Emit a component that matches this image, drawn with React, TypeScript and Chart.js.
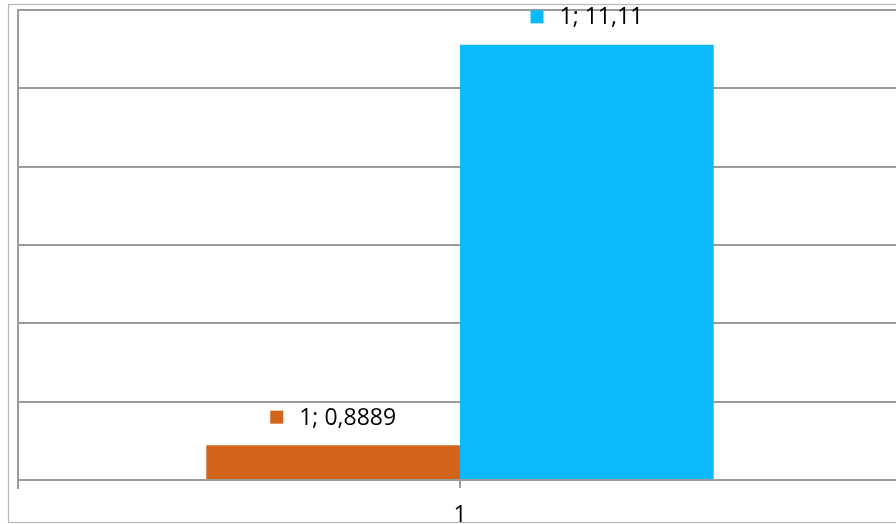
import React, { useEffect, useRef } from "react";
import { Chart, registerables } from "chart.js";

Chart.register(...registerables);

const categories = ["1"];
const seriesOrange = [0.8889];
const seriesBlue = [11.11];
const yTicks = [0, 2, 4, 6, 8, 10, 12];

const ORANGE = "rgb(210,101,27)";
const BLUE = "rgb(10,186,250)";
const GRID = "#9b9b9b";
const FONT = "'Open Sans', Lato, sans-serif";

const fmt = (v: number) => String(v).replace(".", ",");

const framePlugin = {
  id: "frame",
  beforeDraw(chart: any) {
    const ctx = chart.ctx;
    ctx.save();
    ctx.fillStyle = "#ffffff";
    ctx.fillRect(0, 0, chart.width, chart.height);
    ctx.strokeStyle = "#b8b8b8";
    ctx.lineWidth = 1.2;
    ctx.strokeRect(8.5, 4.5, chart.width + 20, 518);
    ctx.restore();
  },
  afterDraw(chart: any) {
    const ctx = chart.ctx;
    const a = chart.chartArea;
    ctx.save();
    ctx.strokeStyle = GRID;
    ctx.lineWidth = 2;
    ctx.beginPath();
    ctx.moveTo(a.left, a.bottom);
    ctx.lineTo(a.left, a.bottom + 9);
    ctx.stroke();
    // data labels
    ctx.font = `23px ${FONT}`;
    ctx.textBaseline = "middle";
    chart.data.datasets.forEach((ds: any, di: number) => {
      const meta = chart.getDatasetMeta(di);
      meta.data.forEach((bar: any, i: number) => {
        const text = `${categories[i]}; ${fmt(ds.data[i])}`;
        const tw = ctx.measureText(text).width;
        const sq = 13;
        const gap = 16;
        const total = sq + gap + tw;
        const x0 = bar.x - total / 2;
        const yc = bar.y - 27;
        ctx.fillStyle = ds.backgroundColor;
        ctx.fillRect(x0, yc - sq / 2 - 1, sq, sq);
        ctx.fillStyle = "#000";
        ctx.textAlign = "left";
        ctx.fillText(text, x0 + sq + gap, yc);
      });
    });
    ctx.restore();
  },
};

export default function App() {
  const ref = useRef<HTMLCanvasElement>(null);
  useEffect(() => {
    if (!ref.current) return;
    const chart = new Chart(ref.current, {
      type: "bar",
      data: {
        labels: categories,
        datasets: [
          { label: "A", data: seriesOrange, backgroundColor: ORANGE },
          { label: "B", data: seriesBlue, backgroundColor: BLUE },
        ],
      },
      options: {
        responsive: false,
        animation: false,
        layout: { padding: { left: 18, top: 10, right: 18, bottom: 0 } },
        datasets: {
          bar: { categoryPercentage: 0.574, barPercentage: 1 },
        },
        plugins: {
          legend: { display: false },
          tooltip: { enabled: false },
        },
        scales: {
          x: {
            grid: {
              display: true,
              drawOnChartArea: false,
              offset: false,
              color: GRID,
              lineWidth: 2,
              tickLength: 8,
            },
            border: { display: true, color: GRID, width: 2 },
            ticks: {
              color: "#000",
              font: { family: FONT, size: 23 },
              padding: 14,
            },
            afterFit: (s: any) => {
              s.height = 44;
            },
          },
          y: {
            min: 0,
            max: 12,
            afterBuildTicks: (s: any) => {
              s.ticks = yTicks.map((v) => ({ value: v }));
            },
            grid: { color: GRID, lineWidth: 2, drawTicks: false },
            border: { display: true, color: GRID, width: 2 },
            ticks: { display: false },
            afterFit: (s: any) => {
              s.width = 0;
            },
          },
        },
      },
      plugins: [framePlugin],
    });
    return () => chart.destroy();
  }, []);
  return (
    <div
      style={{
        position: "fixed",
        left: 0,
        top: 0,
        width: 896,
        height: 524,
        overflow: "hidden",
        background: "#fff",
      }}
    >
      <canvas ref={ref} width={920} height={524} style={{ display: "block" }} />
    </div>
  );
}
